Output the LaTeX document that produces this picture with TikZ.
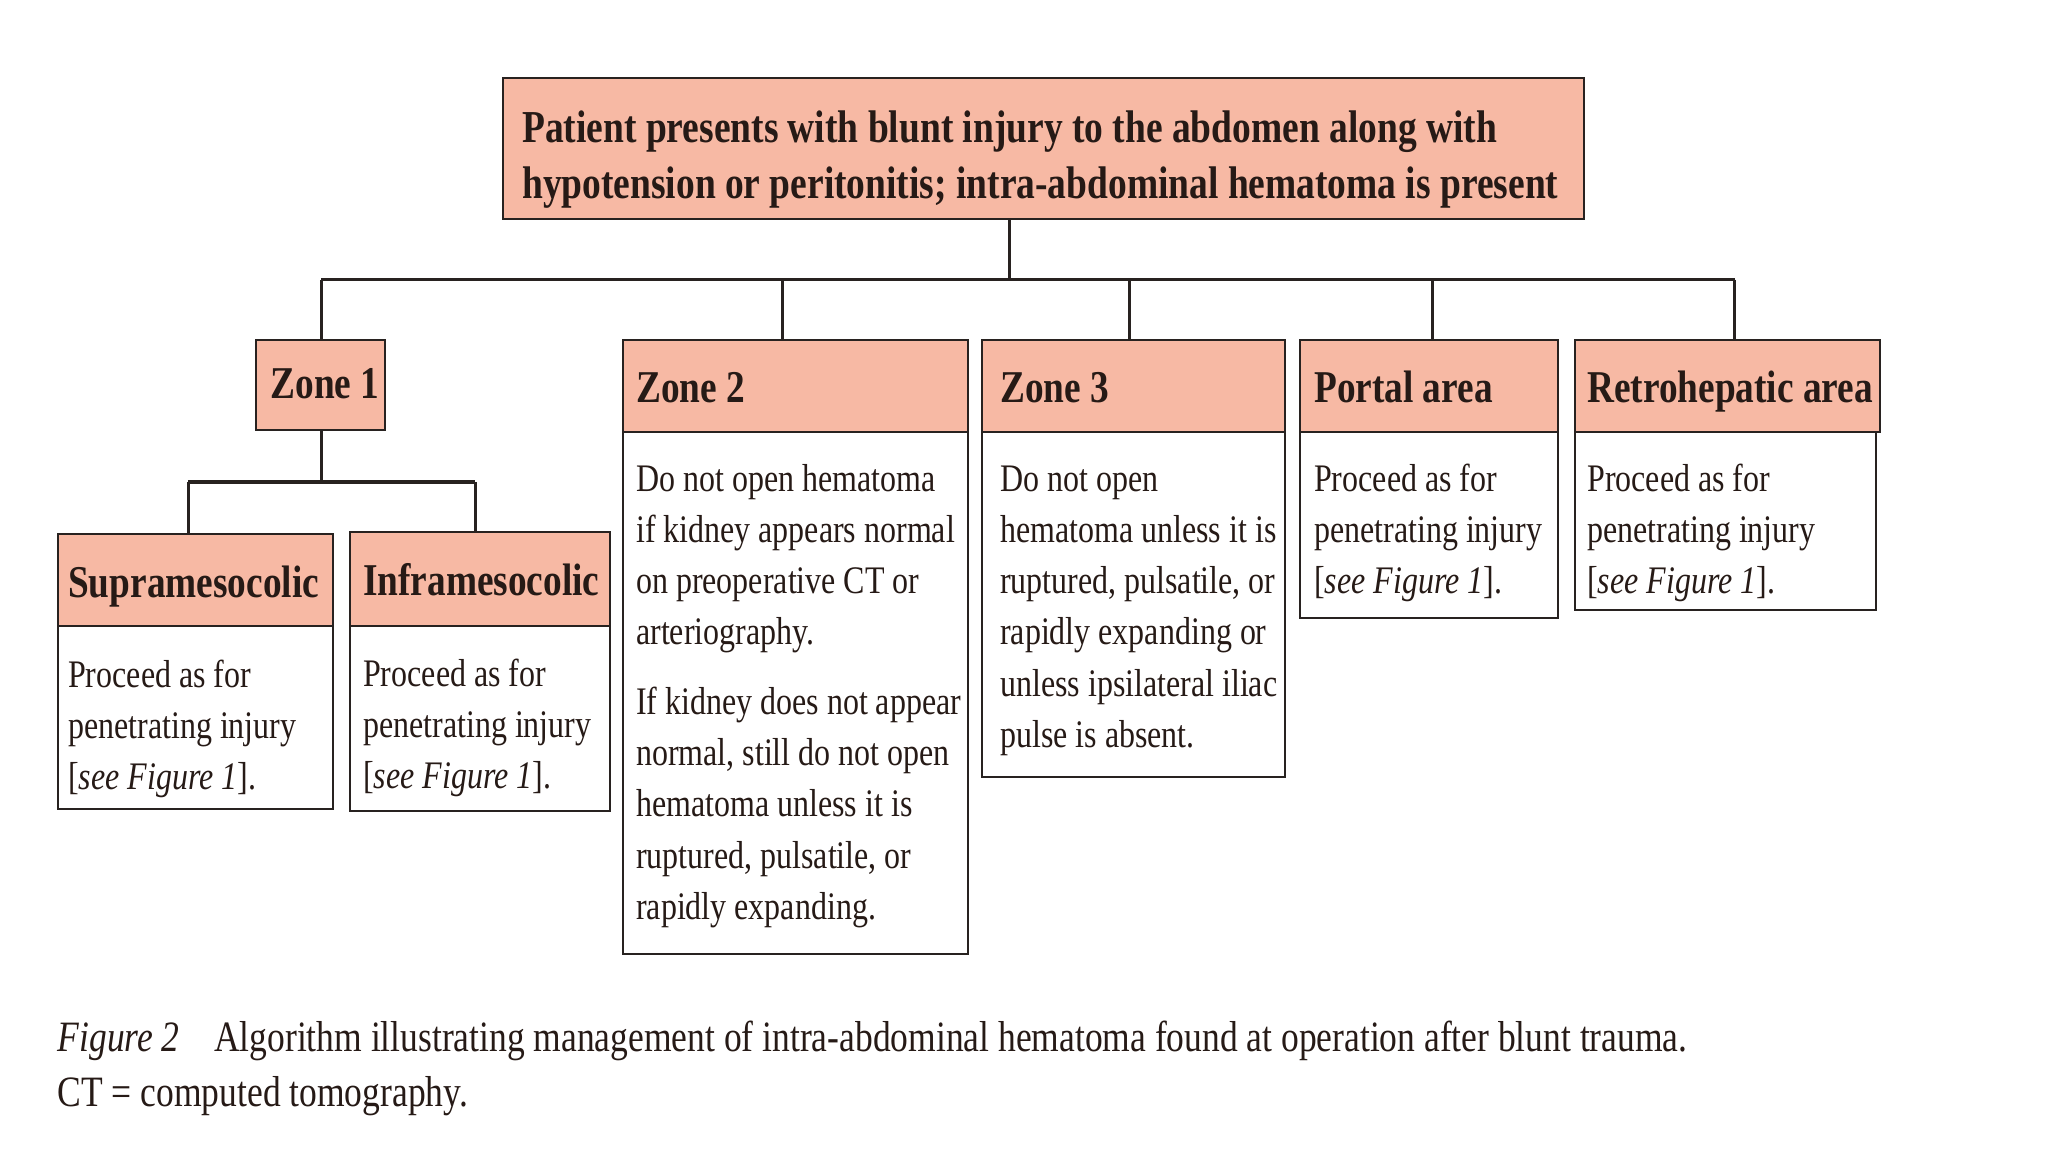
\documentclass[tikz,border=0pt]{standalone}
\usepackage{fontspec}
\setmainfont{Liberation Serif}[FakeStretch=0.82]
\definecolor{hdr}{RGB}{247,185,164}
\definecolor{ink}{RGB}{38,26,22}
\definecolor{rule}{RGB}{40,34,32}
% lines stacked from the first baseline down
\newcommand{\stackfromtop}[1]{\begin{tabular}[t]{@{}l@{}}#1\end{tabular}}

\begin{document}
\begin{tikzpicture}[x=1pt,y=-1pt,
  box/.style={draw=rule, line width=2pt, inner sep=0pt, outer sep=0pt, anchor=north west},
  head/.style={box, fill=hdr},
  body/.style={box, fill=white},
  link/.style={draw=rule, line width=3pt},
  bus/.style={draw=rule, line width=3.5pt},
  bodytxt/.style={anchor=base west, inner sep=0pt, text=ink,
    font=\fontsize{39}{51.3}\selectfont},
  headtxt/.style={anchor=base west, inner sep=0pt, text=ink,
    font=\fontsize{45.5}{50}\selectfont\bfseries},
  toptxt/.style={anchor=base west, inner sep=0pt, text=ink,
    font=\fontsize{45.7}{56.5}\selectfont\bfseries},
  captxt/.style={anchor=base west, inner sep=0pt, text=ink,
    font=\fontsize{43.3}{55}\selectfont}]

\useasboundingbox[fill=white] (0,0) rectangle (2048,1152);

% --- top box ---
\node[head, line width=2.5pt, minimum width=1081pt, minimum height=141pt] (top) at (503,78) {};
\node[toptxt] (toplbl) at (522,142) {\stackfromtop{Patient presents with blunt injury to the abdomen along with\\hypotension or peritonitis; intra-abdominal hematoma is present}};

% --- zone headers ---
\node[head, minimum width=129pt, minimum height=90pt] (z1) at (256,339.6) {};
\node[headtxt, anchor=base] (z1lbl) at (325,398) {Zone 1};

\node[head, minimum width=345pt, minimum height=92.7pt] (z2h) at (623,339.6) {};
\node[body, minimum width=345pt, minimum height=521.2pt] (z2b) at (623,432.3) {};
\node[headtxt] (z2lbl) at (636,402) {Zone 2};

\node[head, minimum width=303pt, minimum height=92.7pt] (z3h) at (982,339.6) {};
\node[body, minimum width=303pt, minimum height=344.7pt] (z3b) at (982,432.3) {};
\node[headtxt] (z3lbl) at (1000,402) {Zone 3};

\node[head, minimum width=258.4pt, minimum height=92.7pt] (pah) at (1299.6,339.6) {};
\node[body, minimum width=258.4pt, minimum height=185.5pt] (pab) at (1299.6,432.3) {};
\node[headtxt] (palbl) at (1314,402) {Portal area};

\node[head, minimum width=304.5pt, minimum height=92.7pt] (rth) at (1575,339.6) {};
\node[body, minimum width=301pt, minimum height=177.7pt] (rtb) at (1575,432.3) {};
\node[headtxt] (rtlbl) at (1587,402) {Retrohepatic area};

% --- zone 1 subdivisions ---
\node[head, minimum width=275.5pt, minimum height=91.6pt] (suh) at (57.5,534) {};
\node[body, minimum width=275.5pt, minimum height=182.9pt] (sub) at (57.5,625.6) {};
\node[headtxt] (sulbl) at (68,597) {Supramesocolic};

\node[head, minimum width=260pt, minimum height=94pt] (inh) at (350,531.6) {};
\node[body, minimum width=260pt, minimum height=185.4pt] (inb) at (350,625.6) {};
\node[headtxt] (inlbl) at (363,595) {Inframesocolic};

% --- body texts ---
\node[bodytxt] (sutxt) at (68,687) {\stackfromtop{Proceed as for\\penetrating injury\\{[}\textit{see Figure 1}{]}.}};
\node[bodytxt] (intxt) at (363,686) {\stackfromtop{Proceed as for\\penetrating injury\\{[}\textit{see Figure 1}{]}.}};
\node[bodytxt] (z2txt) at (636,491) {\stackfromtop{Do not open hematoma\\if kidney appears normal\\on preoperative CT or\\arteriography.\\[18pt]If kidney does not appear\\normal, still do not open\\hematoma unless it is\\ruptured, pulsatile, or\\rapidly expanding.}};
\node[bodytxt] (z3txt) at (1000,491) {\stackfromtop{Do not open\\hematoma unless it is\\ruptured, pulsatile, or\\rapidly expanding or\\unless ipsilateral iliac\\pulse is absent.}};
\node[bodytxt] (patxt) at (1314,491) {\stackfromtop{Proceed as for\\penetrating injury\\{[}\textit{see Figure 1}{]}.}};
\node[bodytxt] (rttxt) at (1587,491) {\stackfromtop{Proceed as for\\penetrating injury\\{[}\textit{see Figure 1}{]}.}};

% --- connectors ---
\coordinate (bL) at (321.3,279.5);
\coordinate (bR) at (1734.5,279.5);
\coordinate (dT) at (1009.6,279.5);
\coordinate (d2) at (782.4,279.5);
\coordinate (d3) at (1129.8,279.5);
\coordinate (dP) at (1432.8,279.5);
\coordinate (sL) at (188,482);
\coordinate (sR) at (475.4,482);
\coordinate (sM) at (321,482);

\draw[bus] (bL) -- (bR);
\draw[link] (top.south -| dT) -- (dT);
\draw[link] (bL) -- (bL |- z1.north);
\draw[link] (d2) -- (d2 |- z2h.north);
\draw[link] (d3) -- (d3 |- z3h.north);
\draw[link] (dP) -- (dP |- pah.north);
\draw[link] (bR) -- (bR |- rth.north);

\draw[link] (z1.south -| sM) -- (sM);
\draw[bus] (sL) -- (sR);
\draw[link] (sL) -- (sL |- suh.north);
\draw[link] (sR) -- (sR |- inh.north);

% --- caption ---
\node[captxt] (cap) at (57.5,1051) {\stackfromtop{\textit{Figure 2}\hspace{0.8em}Algorithm illustrating management of intra-abdominal hematoma found at operation after blunt trauma.\\CT = computed tomography.}};
\end{tikzpicture}
\end{document}
